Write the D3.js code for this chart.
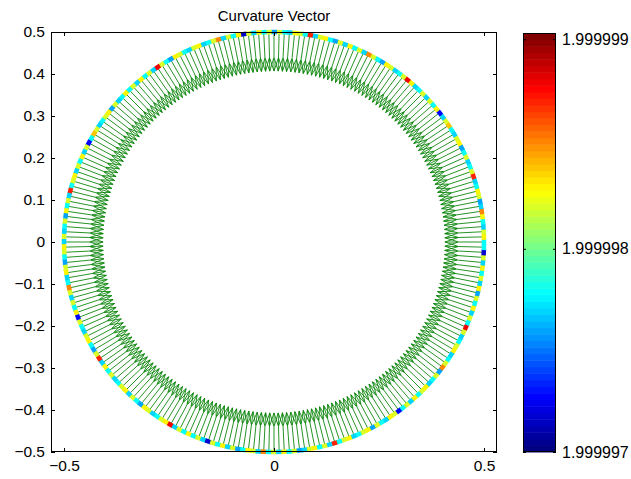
<!DOCTYPE html>
<html>
<head>
<meta charset="utf-8">
<script src="https://cdn.jsdelivr.net/npm/d3@7"></script>
<style>
  body { margin: 0; background: #fff; }
  svg { font-family: "Liberation Sans", Arial, Helvetica, sans-serif; }
</style>
</head>
<body>
<svg id="chart"></svg>
<script>
// axis limits and ticks
var xLimits = [-0.531, 0.531]
var yLimits = [-0.5, 0.5]
var xTicks = [-0.5, 0, 0.5]
var yTicks = [-0.5, -0.4, -0.3, -0.2, -0.1, 0, 0.1, 0.2, 0.3, 0.4, 0.5]

// colorbar
var colorLimits = [1.99999703, 1.99999903]
var colorTicks = [1.99999703, 1.999998, 1.999999]
var colorTickLabels = ["1.999997", "1.999998", "1.999999"]

// curve: points on a circle of radius 0.5, curvature vectors point inward
var radius = 0.5
var arrowLength = 0.093

// curvature at each point, in units of 1e-7 above 1.999997
var curvatureOffsets = [
  8,13,12,7,8,13,15,7,6,12,13,8,7,17,12,8,
  7,12,8,6,13,12,7,8,14,12,7,3,13,8,12,7,
  12,8,7,13,18,12,8,7,12,13,6,8,12,15,7,12,
  8,13,7,12,6,8,13,12,7,17,8,12,13,7,8,12,
  6,12,8,13,7,12,2,13,8,12,7,15,12,8,7,13,
  12,7,8,12,13,6,8,12,18,7,12,8,13,7,12,8,
  13,8,7,12,6,13,12,8,7,12,14,8,3,12,7,13,
  8,12,7,13,12,8,17,7,12,8,13,6,12,8,7,12,
  7,13,12,8,6,12,13,7,8,15,12,7,12,8,13,3,
  12,8,7,12,13,8,6,12,17,7,13,8,12,7,8,12,
  13,7,12,8,6,13,12,7,8,12,13,18,7,12,8,13,
  8,12,7,2,12,8,13,7,12,6,8,13,12,7,15,8,
  12,7,13,8,12,6,7,12,13,8,12,7,17,8,12,13,
  7,8,12,13,6,12,8,7,13,12,3,8,12,7,13,8,
  12,13,7,8,12,6,15,12,8,7,13,12,8,7,12,18,
  8,12,7,13,8,12,6,13,7,12,8,13,7,12,2,8
]

var dimensions = {
  width: 631,
  height: 479,
  plot: { left: 51, right: 497, top: 32, bottom: 452 },
  bar: { left: 523, right: 556, top: 33, bottom: 452 }
}

var n = curvatureOffsets.length
var points = curvatureOffsets.map(function (k, i) {
  var a = 2 * Math.PI * i / n
  return {
    a: a,
    x: radius * Math.cos(a),
    y: radius * Math.sin(a),
    u: -arrowLength * Math.cos(a),
    v: -arrowLength * Math.sin(a),
    c: 1.999997 + k * 1e-7
  }
})

function clamp(v) { return Math.max(0, Math.min(1, v)) }
function jet(t) {
  var r = clamp(Math.min(4 * t - 1.5, -4 * t + 4.5))
  var g = clamp(Math.min(4 * t - 0.5, -4 * t + 3.5))
  var b = clamp(Math.min(4 * t + 0.5, -4 * t + 2.5))
  return d3.rgb(r * 255, g * 255, b * 255).toString()
}

var svg = d3.select("#chart")
  .attr("width", dimensions.width)
  .attr("height", dimensions.height)

var xScale = d3.scaleLinear()
  .domain(xLimits)
  .range([dimensions.plot.left, dimensions.plot.right])

var yScale = d3.scaleLinear()
  .domain(yLimits)
  .range([dimensions.plot.bottom, dimensions.plot.top])

var colorNorm = d3.scaleLinear().domain(colorLimits).range([0, 1]).clamp(true)
var nColors = 64
var colorOf = function (c) {
  var idx = Math.min(nColors - 1, Math.floor(colorNorm(c) * nColors))
  return jet(idx / (nColors - 1))
}

// quiver arrows (MATLAB style heads)
var alpha = 0.33, beta = 0.33
var quiver = svg.append("g")
  .attr("fill", "none")
  .attr("stroke", "#008000")
  .attr("stroke-width", 0.85)

quiver.selectAll("path")
  .data(points)
  .enter()
  .append("path")
  .attr("d", function (d) {
    var tx = d.x + d.u, ty = d.y + d.v
    var h1x = tx - alpha * (d.u + beta * d.v), h1y = ty - alpha * (d.v - beta * d.u)
    var h2x = tx - alpha * (d.u - beta * d.v), h2y = ty - alpha * (d.v + beta * d.u)
    return "M" + xScale(d.x) + "," + yScale(d.y) + "L" + xScale(tx) + "," + yScale(ty) +
      "M" + xScale(h1x) + "," + yScale(h1y) + "L" + xScale(tx) + "," + yScale(ty) +
      "L" + xScale(h2x) + "," + yScale(h2y)
  })

// colored points on the curve
var markerW = 6, markerH = 4.5
svg.append("g")
  .selectAll("rect")
  .data(points)
  .enter()
  .append("rect")
  .attr("x", -markerW / 2)
  .attr("y", -markerH / 2)
  .attr("width", markerW)
  .attr("height", markerH)
  .attr("transform", d => `translate(${xScale(d.x)},${yScale(d.y)}) rotate(${90 - d.a * 180 / Math.PI})`)
  .attr("fill", d => colorOf(d.c))

// axes box
svg.append("rect")
  .attr("x", dimensions.plot.left + 0.5)
  .attr("y", dimensions.plot.top + 0.5)
  .attr("width", dimensions.plot.right - dimensions.plot.left - 1)
  .attr("height", dimensions.plot.bottom - dimensions.plot.top - 1)
  .attr("fill", "none")
  .attr("stroke", "#000")

var fmt = d3.format("")

function styleAxis(size) {
  return function (g) {
    g.select(".domain").remove()
    g.selectAll("text").attr("font-size", size).attr("fill", "#000").attr("font-family", "Liberation Sans, Arial, sans-serif")
    g.selectAll("line").attr("stroke", "#000")
  }
}

svg.append("g")
  .attr("transform", `translate(0,${dimensions.plot.bottom})`)
  .call(d3.axisBottom(xScale).tickValues(xTicks).tickFormat(fmt).tickSizeInner(-4).tickSizeOuter(0).tickPadding(8))
  .call(styleAxis(15.5))

svg.append("g")
  .attr("transform", `translate(0,${dimensions.plot.top})`)
  .call(d3.axisTop(xScale).tickValues(xTicks).tickFormat("").tickSizeInner(-4).tickSizeOuter(0))
  .call(styleAxis(15.5))

svg.append("g")
  .attr("transform", `translate(${dimensions.plot.left},0)`)
  .call(d3.axisLeft(yScale).tickValues(yTicks).tickFormat(fmt).tickSizeInner(-4).tickSizeOuter(0).tickPadding(6))
  .call(styleAxis(15.5))

svg.append("g")
  .attr("transform", `translate(${dimensions.plot.right},0)`)
  .call(d3.axisRight(yScale).tickValues(yTicks).tickFormat("").tickSizeInner(-4).tickSizeOuter(0))
  .call(styleAxis(15.5))

// title
svg.append("text")
  .attr("x", (xScale(-0.5) + xScale(0.5)) / 2)
  .attr("y", 20.5)
  .attr("text-anchor", "middle")
  .attr("font-size", 15)
  .text("Curvature Vector")

// colorbar
var barScale = d3.scaleLinear()
  .domain(colorLimits)
  .range([dimensions.bar.bottom, dimensions.bar.top])

var bands = d3.range(nColors)
svg.append("g")
  .selectAll("rect")
  .data(bands)
  .enter()
  .append("rect")
  .attr("x", dimensions.bar.left)
  .attr("width", dimensions.bar.right - dimensions.bar.left)
  .attr("y", i => barScale(colorLimits[0] + (i + 1) * (colorLimits[1] - colorLimits[0]) / nColors))
  .attr("height", (dimensions.bar.bottom - dimensions.bar.top) / nColors + 0.5)
  .attr("fill", i => jet(i / (nColors - 1)))

svg.append("rect")
  .attr("x", dimensions.bar.left + 0.5)
  .attr("y", dimensions.bar.top + 0.5)
  .attr("width", dimensions.bar.right - dimensions.bar.left - 1)
  .attr("height", dimensions.bar.bottom - dimensions.bar.top - 1)
  .attr("fill", "none")
  .attr("stroke", "#000")

svg.append("g")
  .attr("transform", `translate(${dimensions.bar.right},0)`)
  .call(d3.axisRight(barScale).tickValues(colorTicks).tickFormat((d, i) => colorTickLabels[i]).tickSizeInner(-3).tickSizeOuter(0).tickPadding(6))
  .call(styleAxis(16))

svg.append("g")
  .attr("transform", `translate(${dimensions.bar.left},0)`)
  .call(d3.axisLeft(barScale).tickValues(colorTicks).tickFormat("").tickSizeInner(-3).tickSizeOuter(0))
  .call(styleAxis(16))
</script>
</body>
</html>
